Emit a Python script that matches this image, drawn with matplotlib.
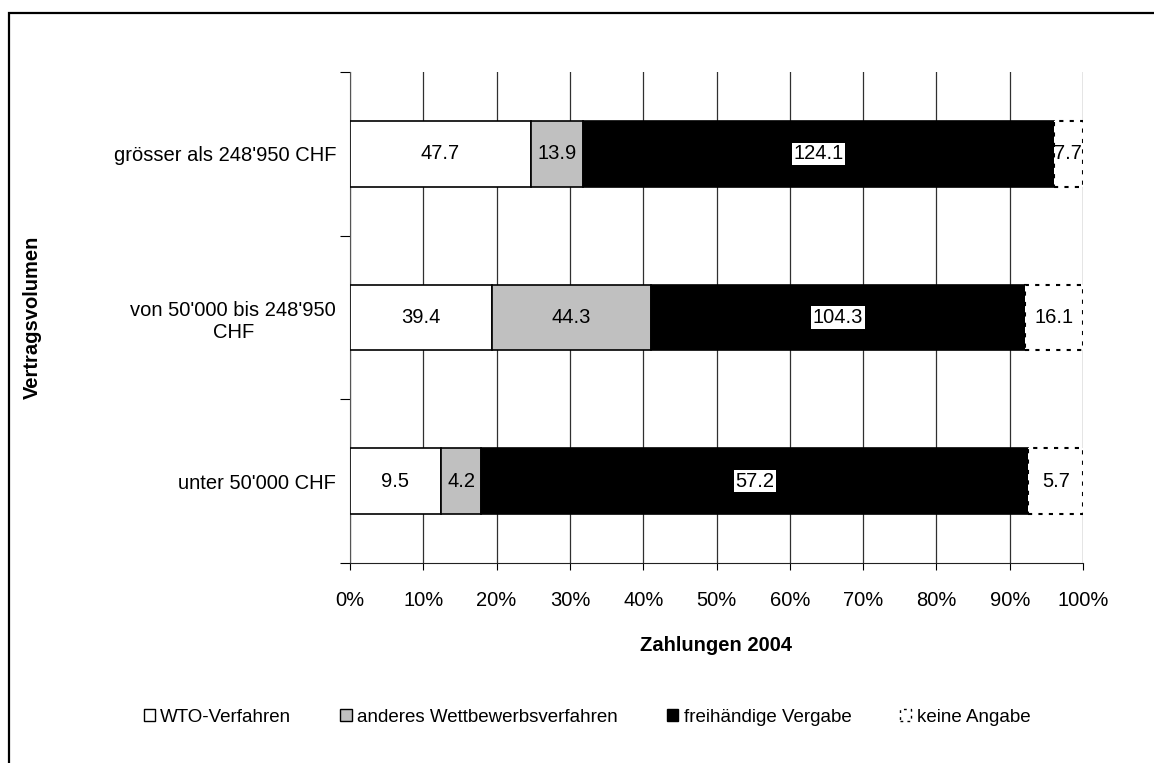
import matplotlib.pyplot as plt
import matplotlib.patches as mpatches
import numpy as np

plt.rcParams['font.family'] = ['Liberation Sans', 'DejaVu Sans']

categories = ["unter 50'000 CHF", "von 50'000 bis 248'950\nCHF", "grösser als 248'950 CHF"]
series = ["WTO-Verfahren", "anderes Wettbewerbsverfahren", "freihändige Vergabe", "keine Angabe"]
wto = [9.5, 39.4, 47.7]
anderes = [4.2, 44.3, 13.9]
frei = [57.2, 104.3, 124.1]
keine = [5.7, 16.1, 7.7]

values = np.array([wto, anderes, frei, keine])
shares = values / values.sum(axis=0) * 100

fs = 14.5

fig = plt.figure(figsize=(11.54, 7.63), dpi=100)
ax = fig.add_axes([350 / 1154, 1 - 563 / 763, 733 / 1154, 491 / 763])

styles = [
    dict(facecolor='white', edgecolor='black', linewidth=1.2),
    dict(facecolor='#c0c0c0', edgecolor='black', linewidth=1.2),
    dict(facecolor='black', edgecolor='black', linewidth=1.2),
    dict(facecolor='white', edgecolor='black', linewidth=1.5, linestyle=(0, (2, 3))),
]

y = np.arange(len(categories))
left = np.zeros(len(categories))
for i, name in enumerate(series):
    ax.barh(y, shares[i], left=left, height=0.4, label=name, zorder=3, **styles[i])
    for j in range(len(categories)):
        cx = left[j] + shares[i][j] / 2
        txt = f"{values[i][j]:.1f}"
        if i == 2:
            ax.text(cx, y[j], txt, ha='center', va='center', fontsize=fs, zorder=5,
                    bbox=dict(facecolor='white', edgecolor='none', pad=1.2))
        else:
            ax.text(cx, y[j], txt, ha='center', va='center', fontsize=fs, zorder=5)
    left += shares[i]

ax.set_xlim(0, 100)
ax.set_ylim(-0.5, 2.5)
ax.set_xticks(np.arange(0, 101, 10))
ax.set_xticklabels([f"{v}%" for v in range(0, 101, 10)], fontsize=fs)
ax.set_yticks([-0.5, 0.5, 1.5, 2.5])
ax.set_yticklabels([])
ax.set_yticks(y, minor=True)
ax.set_yticklabels(categories, minor=True, fontsize=fs, multialignment='center')
ax.tick_params(axis='y', which='minor', length=0, pad=10)
ax.tick_params(axis='y', which='major', length=7, width=0.8, direction='out')
ax.tick_params(axis='x', length=5, width=0.8, direction='out', pad=15)

ax.grid(axis='x', color='#303030', linewidth=0.9, zorder=0)
for s in ['top', 'right']:
    ax.spines[s].set_visible(False)
ax.spines['left'].set_color('#555555')
ax.spines['bottom'].set_color('#222222')

ax.set_xlabel("Zahlungen 2004", fontsize=fs, fontweight='bold', labelpad=19)
ax.set_ylabel("Vertragsvolumen", fontsize=fs, fontweight='bold')
ax.yaxis.set_label_coords((42 - 350) / 733, 0.5)

handles = [mpatches.Patch(label=series[k], **styles[k]) for k in range(4)]
for h in handles:
    h.set_linewidth(1.0)
fig.legend(handles=handles, loc='center', bbox_to_anchor=(587 / 1154, 1 - 717 / 763),
           ncol=4, frameon=False, fontsize=13.5, handlelength=0.6, handleheight=0.6,
           handletextpad=0.3, columnspacing=2.6)

fig.patches.append(mpatches.Rectangle((9 / 1154, -0.05), 1.2, 1 - 13 / 763 + 0.05,
                                      transform=fig.transFigure, fill=False,
                                      edgecolor='black', linewidth=1.6, clip_on=False))

fig.savefig("out.png", dpi=100)
plt.close(fig)
